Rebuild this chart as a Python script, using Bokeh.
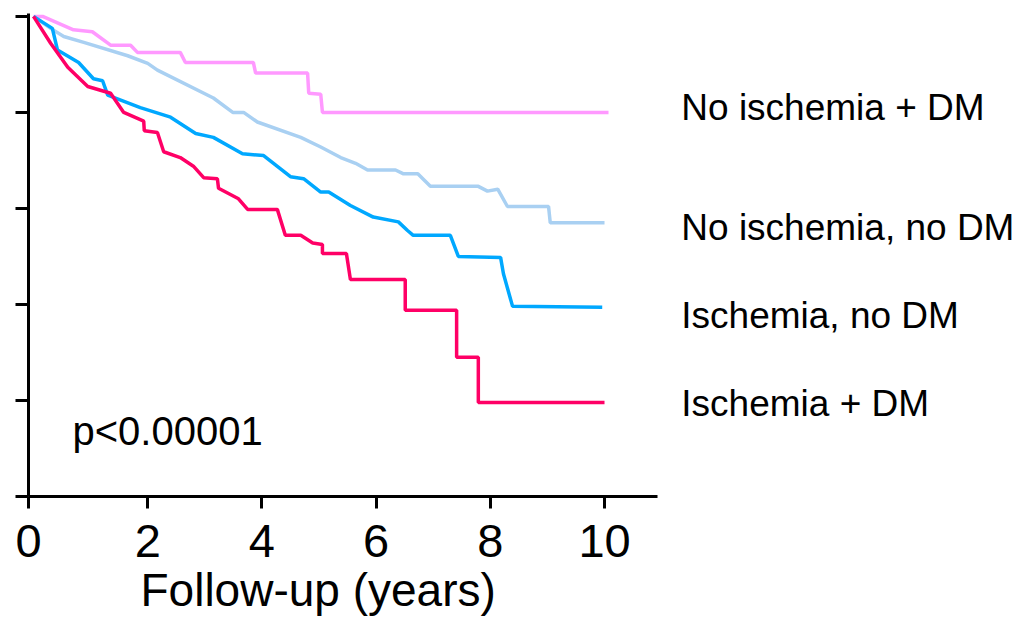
from bokeh.plotting import figure
from bokeh.models import FixedTicker, Label, Range1d, Title
from bokeh.embed import file_html
from bokeh.resources import INLINE

# Survival curves (time in years, survival fraction)
t_nodm_noisch = [0, 0.16, 0.70, 1.03, 1.35, 1.70, 1.82, 2.57, 2.66, 3.85, 3.89, 4.80, 4.82, 5.03, 5.06, 10.07]
s_nodm_noisch = [1.0, 1.0, 0.986, 0.984, 0.970, 0.970, 0.9625, 0.9625, 0.952, 0.952, 0.941, 0.941, 0.920, 0.919, 0.900, 0.900]

t_noisch_nodm = [0, 0.30, 0.53, 0.88, 1.65, 2.00, 2.17, 3.15, 3.49, 3.68, 3.92, 4.68, 5.03, 5.38, 5.64, 5.85,
                 6.34, 6.48, 6.73, 6.95, 7.79, 7.95, 8.13, 8.30, 9.02, 9.05, 10.0]
s_noisch_nodm = [1.0, 0.9875, 0.979, 0.973, 0.959, 0.951, 0.944, 0.915, 0.900, 0.900, 0.890, 0.874, 0.864, 0.853,
                 0.847, 0.840, 0.840, 0.836, 0.836, 0.823, 0.823, 0.818, 0.820, 0.802, 0.802, 0.785, 0.785]

t_isch_nodm = [0, 0.33, 0.42, 0.79, 1.05, 1.21, 1.30, 1.87, 2.40, 2.84, 3.15, 3.66, 4.03, 4.50, 4.73, 5.03, 5.17,
               5.55, 5.95, 6.39, 6.55, 6.65, 7.30, 7.44, 8.18, 8.23, 8.39, 9.96]
s_isch_nodm = [1.0, 0.9875, 0.965, 0.952, 0.935, 0.933, 0.918, 0.905, 0.895, 0.878, 0.874, 0.857, 0.855, 0.833,
               0.831, 0.817, 0.817, 0.803, 0.791, 0.786, 0.777, 0.772, 0.772, 0.750, 0.749, 0.732, 0.698, 0.697]

t_isch_dm = [0, 0.30, 0.60, 0.95, 1.35, 1.58, 1.93, 1.94, 2.17, 2.28, 2.57, 2.80, 2.98, 3.22, 3.24, 3.59, 3.75,
             4.27, 4.41, 4.68, 4.89, 5.06, 5.06, 5.48, 5.55, 6.51, 6.51, 7.41, 7.41, 7.79, 7.79, 10.0]
s_isch_dm = [1.0, 0.972, 0.947, 0.927, 0.920, 0.900, 0.891, 0.881, 0.879, 0.859, 0.853, 0.844, 0.832, 0.831, 0.821,
             0.810, 0.799, 0.799, 0.772, 0.772, 0.764, 0.7625, 0.753, 0.753, 0.726, 0.726, 0.694, 0.694, 0.645,
             0.645, 0.598, 0.598]

group_names = ["No ischemia + DM", "No ischemia, no DM", "Ischemia, no DM", "Ischemia + DM"]
group_label_y = [0.905, 0.780, 0.689, 0.597]
x_ticks = [-0.0876, 2, 4, 6, 8, 10]
x_tick_labels = ["0", "2", "4", "6", "8", "10"]
y_ticks = [0.5, 0.6, 0.7, 0.8, 0.9, 1.0]
p_text = "p<0.00001"
x_title = "Follow-up (years)"

colors = ["#FF99FF", "#A9D0F2", "#00A8FF", "#FF0066"]
FONT = "Liberation Sans"

X0 = -0.0876
X_AXIS_END = 10.93

p = figure(width=1018, height=624, output_backend="svg", toolbar_location=None,
           x_range=Range1d(X0, 17.25), y_range=Range1d(0.5, 1.003),
           min_border_left=28, min_border_top=13, min_border_right=0, min_border_bottom=128)
p.outline_line_color = None
p.xgrid.visible = False
p.ygrid.visible = False
p.background_fill_color = "white"

series = [(t_nodm_noisch, s_nodm_noisch), (t_noisch_nodm, s_noisch_nodm),
          (t_isch_nodm, s_isch_nodm), (t_isch_dm, s_isch_dm)]
for (tt, ss), c in zip(series, colors):
    p.line(tt, ss, line_color=c, line_width=3.5)

# axes
p.xaxis.bounds = (X0, X_AXIS_END)
p.xaxis.ticker = FixedTicker(ticks=x_ticks)
p.xaxis.major_label_overrides = {k: v for k, v in zip(x_ticks, x_tick_labels)}
p.xaxis.axis_line_width = 3
p.xaxis.major_tick_line_width = 3
p.xaxis.major_tick_out = 12
p.xaxis.major_tick_in = 0
p.xaxis.minor_tick_line_color = None
p.xaxis.major_label_text_font = FONT
p.xaxis.major_label_text_font_size = "47px"
p.xaxis.major_label_text_color = "black"
p.xaxis.major_label_standoff = 16

p.add_layout(Title(text=x_title, align="left", offset=112, standoff=4,
                   text_font=FONT, text_font_size="46px", text_font_style="normal",
                   text_color="black"), "below")

p.yaxis.ticker = FixedTicker(ticks=y_ticks)
p.yaxis.major_label_overrides = {k: "" for k in y_ticks}
p.yaxis.axis_line_width = 3
p.yaxis.major_tick_line_width = 3
p.yaxis.major_tick_out = 13
p.yaxis.major_tick_in = 0
p.yaxis.minor_tick_line_color = None
p.yaxis.major_label_standoff = 0

for name, yy in zip(group_names, group_label_y):
    p.add_layout(Label(x=11.345, y=yy, text=name, text_font=FONT, text_font_size="37px",
                       text_baseline="alphabetic", text_color="black"))

p.add_layout(Label(x=0.683, y=0.568, text=p_text, text_font=FONT, text_font_size="40px",
                   text_baseline="alphabetic", text_color="black"))

open("out.html", "w").write(file_html(p, INLINE))
